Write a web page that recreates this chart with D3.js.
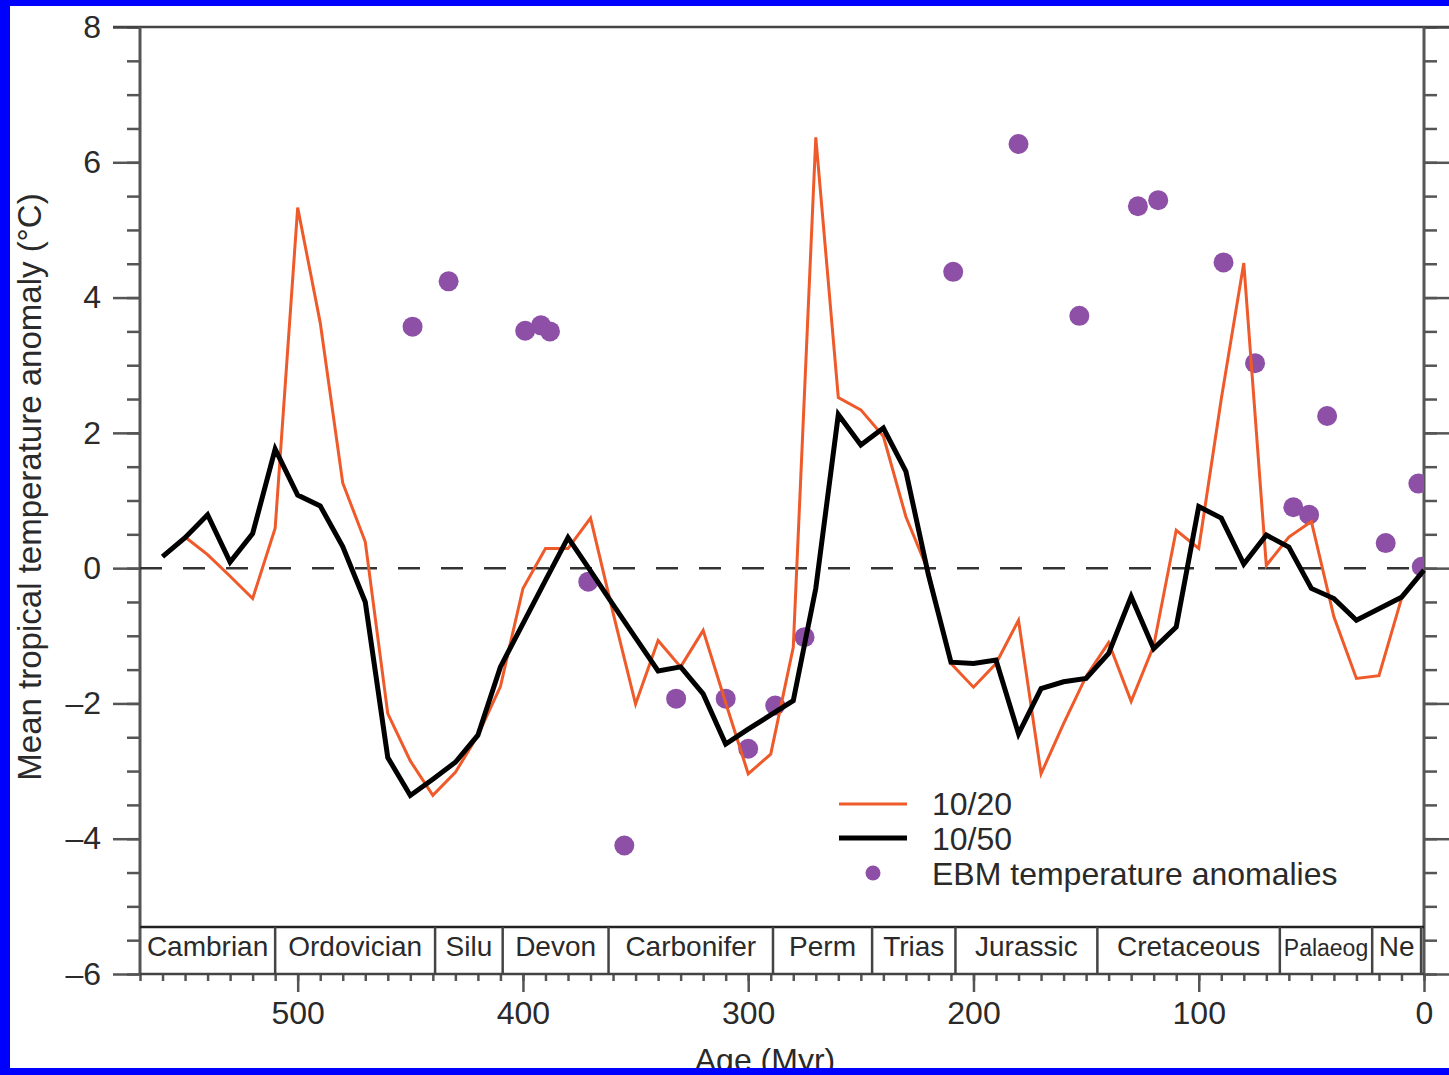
<!DOCTYPE html>
<html>
<head>
<meta charset="utf-8">
<script src="https://cdn.jsdelivr.net/npm/d3@7"></script>
<style>
body { margin: 0; background: #0000ff; }
svg { display: block; }
text { font-family: 'Liberation Sans', Arial, sans-serif; }
</style>
</head>
<body>
<div id="chart"></div>
<script>
// age (Myr) of each model step
let ages = [560, 550, 540, 530, 520, 510, 500, 490, 480, 470, 460, 450, 440, 430, 420, 410, 400, 390, 380, 370,
	360, 350, 340, 330, 320, 310, 300, 290, 280, 270, 260, 250, 240, 230, 220, 210, 200, 190, 180, 170,
	160, 150, 140, 130, 120, 110, 100, 90, 80, 70, 60, 50, 40, 30, 20, 10, 0]

// 10/20 run
let run1020 = [0.17, 0.46, 0.2, -0.12, -0.45, 0.59, 5.33, 3.63, 1.26, 0.39, -2.15, -2.85, -3.36, -3.02, -2.47, -1.75, -0.3, 0.29, 0.29, 0.74,
	-0.66, -2.01, -1.07, -1.46, -0.92, -1.99, -3.04, -2.75, -1.17, 6.37, 2.52, 2.34, 1.95, 0.76, -0.05, -1.41, -1.76, -1.41, -0.77, -3.04,
	-2.3, -1.6, -1.1, -1.97, -1.15, 0.56, 0.29, 2.5, 4.51, 0.04, 0.46, 0.69, -0.72, -1.63, -1.59, -0.45, -0.03]

// 10/50 run
let run1050 = [0.17, 0.45, 0.79, 0.09, 0.51, 1.76, 1.08, 0.92, 0.32, -0.5, -2.8, -3.36, -3.12, -2.87, -2.47, -1.46, -0.82, -0.18, 0.45, -0.04,
	-0.54, -1.03, -1.52, -1.46, -1.86, -2.6, -2.38, -2.17, -1.96, -0.3, 2.27, 1.82, 2.07, 1.43, -0.1, -1.39, -1.41, -1.36, -2.45, -1.78,
	-1.68, -1.63, -1.26, -0.42, -1.19, -0.87, 0.91, 0.74, 0.06, 0.49, 0.31, -0.3, -0.45, -0.77, -0.6, -0.43, -0.03]

// EBM points
let ebmAges = [449, 433, 399, 392, 388, 371, 355, 332, 310, 300, 288, 275, 209, 180, 153, 127, 118, 89, 75, 43, 58, 51, 17, 2.5, 1]
let ebmValues = [3.57, 4.24, 3.51, 3.59, 3.5, -0.2, -4.1, -1.93, -1.93, -2.67, -2.03, -1.02, 4.38, 6.27, 3.73, 5.35, 5.44, 4.52, 3.03, 2.25, 0.9, 0.79, 0.37, 1.25, 0.02]

// geological periods
let periodNames = ['Cambrian', 'Ordovician', 'Silu', 'Devon', 'Carbonifer', 'Perm', 'Trias', 'Jurassic', 'Cretaceous', 'Palaeog', 'Ne']
let periodBounds = [570, 510, 439, 409, 362, 289, 245, 208, 145, 64, 23, 1.3]

let xTicks = [500, 400, 300, 200, 100, 0]
let yTicks = [-6, -4, -2, 0, 2, 4, 6, 8]

let legendLabels = ['10/20', '10/50', 'EBM temperature anomalies']

let width = 1449, height = 1075
let margin = { left: 140, right: 25, top: 27, bottom: 101 }
let plotRight = width - margin.right
let plotBottom = height - margin.bottom
let bandHeight = 47

let orange = '#ef5a2a', purple = '#8e50a6', axisColor = '#555'

let svg = d3.select('#chart')
.append('svg')
.attr('width', width)
.attr('height', height)

svg.append('rect')
.attr('x', 10)
.attr('y', 6)
.attr('width', width - 10)
.attr('height', 1062)
.attr('fill', '#fff')

let x = d3.scaleLinear()
.domain([570, 0])
.range([margin.left, plotRight])

let y = d3.scaleLinear()
.domain([-6, 8])
.range([plotBottom, margin.top])

let fmt = d => d < 0 ? '\u2013' + Math.abs(d) : d

function styleAxis(g, size) {
	g.select('.domain').remove()
	g.selectAll('line').attr('stroke', axisColor).attr('stroke-width', 2.5)
	g.selectAll('text')
	.attr('font-size', size)
	.attr('font-family', "'Liberation Sans', Arial, sans-serif")
	.attr('fill', '#2a2a2a')
}

// y axes, left and right
let yMinor = d3.range(-6, 8.01, 0.5)

svg.append('g')
.attr('transform', `translate(${margin.left},0)`)
.call(d3.axisLeft(y).tickValues(yMinor).tickSize(13).tickFormat(''))
.call(g => styleAxis(g, 32))

svg.append('g')
.attr('transform', `translate(${margin.left},0)`)
.call(d3.axisLeft(y).tickValues(yTicks).tickSize(27).tickPadding(12).tickFormat(fmt))
.call(g => styleAxis(g, 32))

svg.append('g')
.attr('transform', `translate(${plotRight},0)`)
.call(d3.axisRight(y).tickValues(yMinor).tickSize(13).tickFormat(''))
.call(g => styleAxis(g, 32))

svg.append('g')
.attr('transform', `translate(${plotRight},0)`)
.call(d3.axisRight(y).tickValues(yTicks).tickSize(27).tickFormat(''))
.call(g => styleAxis(g, 32))

// x axis
let xMinor = d3.range(570, -1, -10)

svg.append('g')
.attr('transform', `translate(0,${plotBottom})`)
.call(d3.axisBottom(x).tickValues(xMinor).tickSize(7).tickFormat(''))
.call(g => styleAxis(g, 32))

svg.append('g')
.attr('transform', `translate(0,${plotBottom})`)
.call(d3.axisBottom(x).tickValues(xTicks).tickSize(18).tickPadding(9).tickFormat(fmt))
.call(g => styleAxis(g, 32))

// frame
svg.append('line')
.attr('x1', margin.left - 27).attr('x2', plotRight + 25)
.attr('y1', margin.top).attr('y2', margin.top)
.attr('stroke', '#444').attr('stroke-width', 2.5)

svg.append('line')
.attr('x1', margin.left).attr('x2', margin.left)
.attr('y1', margin.top).attr('y2', plotBottom)
.attr('stroke', axisColor).attr('stroke-width', 3)

svg.append('line')
.attr('x1', plotRight).attr('x2', plotRight)
.attr('y1', margin.top).attr('y2', plotBottom)
.attr('stroke', axisColor).attr('stroke-width', 3)

svg.append('line')
.attr('x1', margin.left).attr('x2', plotRight)
.attr('y1', plotBottom).attr('y2', plotBottom)
.attr('stroke', '#444').attr('stroke-width', 2.5)

// zero line
svg.append('line')
.attr('x1', margin.left).attr('x2', plotRight)
.attr('y1', y(0)).attr('y2', y(0))
.attr('stroke', '#333')
.attr('stroke-width', 2.5)
.attr('stroke-dasharray', '22,21')

// period band
let periods = periodNames.map((name, i) => ({ name, start: periodBounds[i], end: periodBounds[i + 1] }))

let band = svg.append('g')

band.append('line')
.attr('x1', margin.left).attr('x2', plotRight)
.attr('y1', plotBottom - bandHeight).attr('y2', plotBottom - bandHeight)
.attr('stroke', '#222').attr('stroke-width', 2.5)

band.selectAll('.period')
.data(periods)
.join('line')
.attr('class', 'period')
.attr('x1', d => x(d.end)).attr('x2', d => x(d.end))
.attr('y1', plotBottom - bandHeight).attr('y2', plotBottom)
.attr('stroke', '#444').attr('stroke-width', 2.5)

band.selectAll('.period-label')
.data(periods)
.join('text')
.attr('class', 'period-label')
.attr('x', d => (x(d.start) + x(d.end)) / 2)
.attr('y', plotBottom - 18)
.attr('text-anchor', 'middle')
.attr('font-size', d => d.name == 'Palaeog' ? 23 : 28)
.attr('fill', '#2a2a2a')
.text(d => d.name)

// clip for the plot area
svg.append('clipPath')
.attr('id', 'plot-clip')
.append('rect')
.attr('x', margin.left)
.attr('y', margin.top)
.attr('width', plotRight - margin.left)
.attr('height', plotBottom - margin.top)

// EBM dots
let ebm = ebmAges.map((a, i) => ({ age: a, v: ebmValues[i] }))

svg.append('g')
.attr('clip-path', 'url(#plot-clip)')
.selectAll('circle')
.data(ebm)
.join('circle')
.attr('cx', d => x(d.age))
.attr('cy', d => y(d.v))
.attr('r', 10)
.attr('fill', purple)

// model lines
let line = d3.line()
.x(d => x(d.age))
.y(d => y(d.v))

svg.append('path')
.datum(ages.map((a, i) => ({ age: a, v: run1020[i] })))
.attr('d', line)
.attr('fill', 'none')
.attr('stroke', orange)
.attr('stroke-width', 3)

svg.append('path')
.datum(ages.map((a, i) => ({ age: a, v: run1050[i] })))
.attr('d', line)
.attr('fill', 'none')
.attr('stroke', '#000')
.attr('stroke-width', 5)

// legend
let legend = svg.append('g')
.attr('transform', 'translate(839, 803)')

legend.append('line')
.attr('x1', 0).attr('x2', 68).attr('y1', 1).attr('y2', 1)
.attr('stroke', orange).attr('stroke-width', 3)

legend.append('line')
.attr('x1', 0).attr('x2', 68).attr('y1', 35).attr('y2', 35)
.attr('stroke', '#000').attr('stroke-width', 5)

legend.append('circle')
.attr('cx', 34).attr('cy', 70).attr('r', 7.5)
.attr('fill', purple)

legend.selectAll('.legend-text')
.data(legendLabels)
.join('text')
.attr('class', 'legend-text')
.attr('x', 93)
.attr('y', (d, i) => i * 35 + 12)
.attr('font-size', 32)
.attr('fill', '#2a2a2a')
.text(d => d)

// axis titles
svg.append('text')
.attr('transform', 'translate(41, 487) rotate(-90)')
.attr('text-anchor', 'middle')
.attr('font-size', 33)
.attr('fill', '#2a2a2a')
.text('Mean tropical temperature anomaly (\u00b0C)')

svg.append('text')
.attr('x', 765)
.attr('y', 1071)
.attr('text-anchor', 'middle')
.attr('font-size', 32)
.attr('fill', '#2a2a2a')
.text('Age (Myr)')

// blue border on top
svg.append('rect').attr('x', 0).attr('y', 0).attr('width', 10).attr('height', height).attr('fill', '#0000ff')
svg.append('rect').attr('x', 0).attr('y', 0).attr('width', width).attr('height', 6).attr('fill', '#0000ff')
svg.append('rect').attr('x', 0).attr('y', 1068).attr('width', width).attr('height', height - 1068).attr('fill', '#0000ff')
</script>
</body>
</html>
